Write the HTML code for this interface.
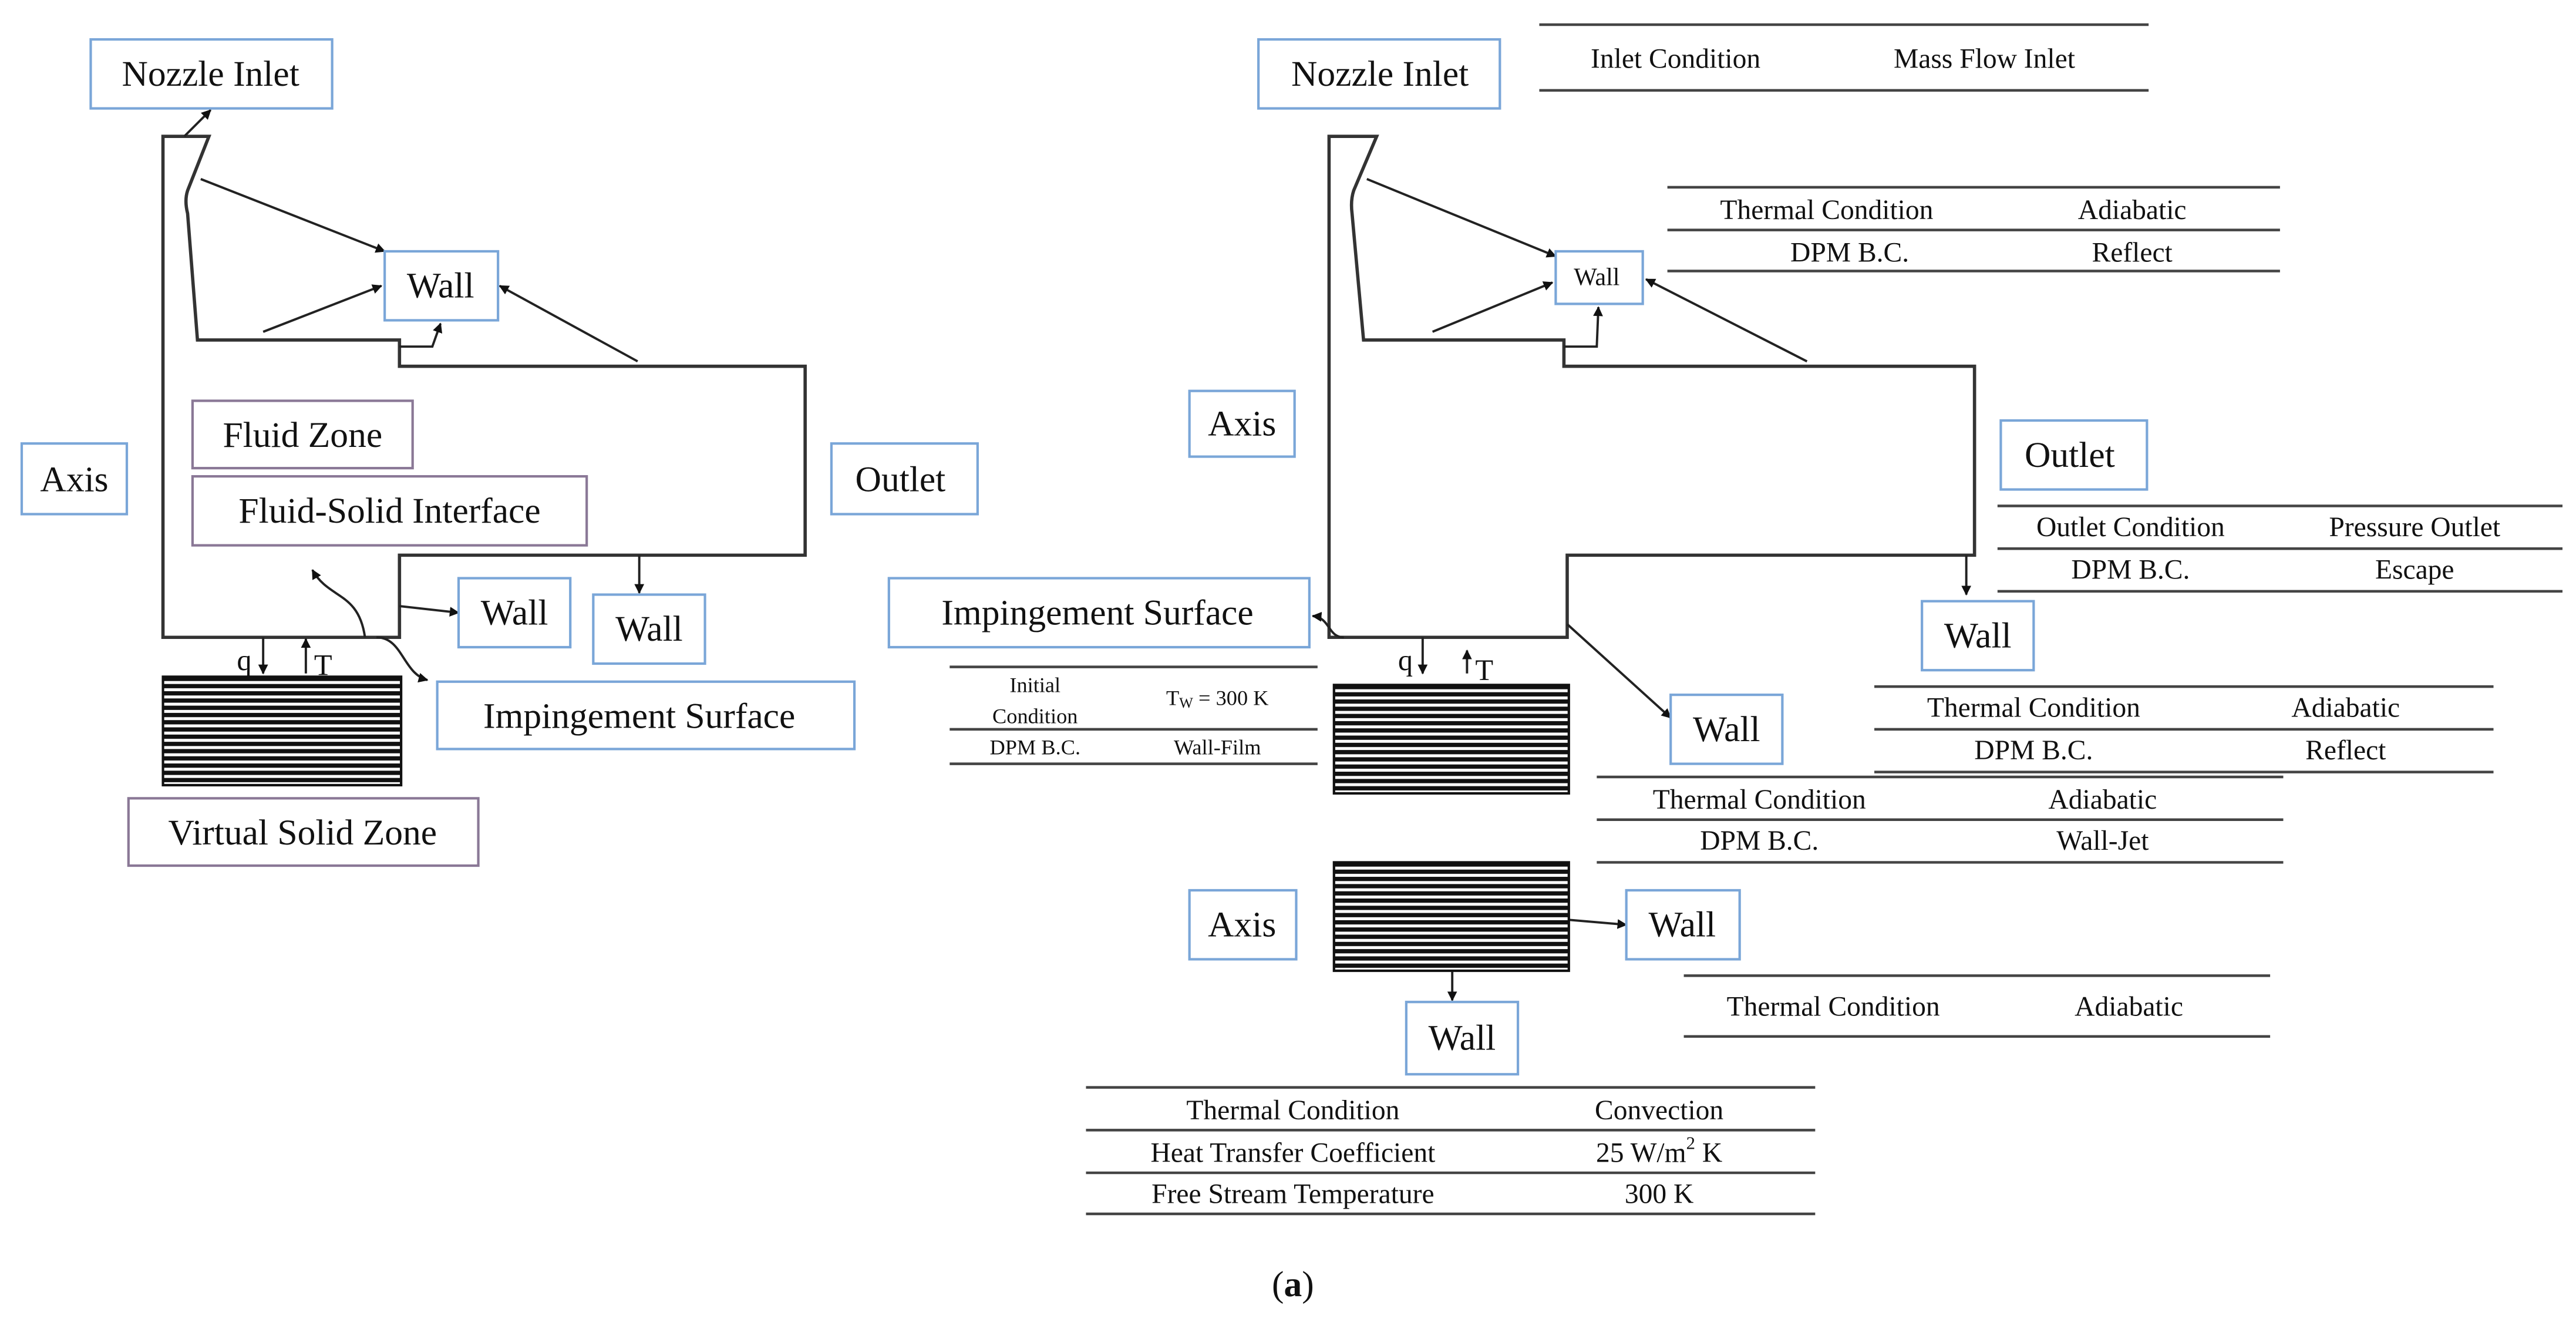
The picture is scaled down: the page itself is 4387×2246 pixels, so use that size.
<!DOCTYPE html>
<html><head><meta charset="utf-8"><style>
html,body{margin:0;padding:0;background:#fff;}
svg{display:block;}
text{font-family:"Liberation Serif",serif;fill:#111;}
</style></head><body>
<svg width="4387" height="2246" viewBox="0 0 1568 803" xmlns="http://www.w3.org/2000/svg">
<defs>
<marker id="a" viewBox="0 0 10 10" refX="9" refY="5" markerWidth="6" markerHeight="6" orient="auto-start-reverse" markerUnits="userSpaceOnUse"><path d="M0,0 L10,5 L0,10 z" fill="#111"/></marker>
<pattern id="h" width="10" height="4.4" patternUnits="userSpaceOnUse" y="412"><rect width="10" height="2.6" fill="#111"/></pattern>
<pattern id="h2" width="10" height="4.4" patternUnits="userSpaceOnUse" y="417"><rect width="10" height="2.6" fill="#111"/></pattern>
<pattern id="h3" width="10" height="4.4" patternUnits="userSpaceOnUse" y="525"><rect width="10" height="2.6" fill="#111"/></pattern>
</defs>
<g fill="none" stroke="#333" stroke-width="2">
<!-- left outline -->
<path d="M99,83 L127,83 L114,116 Q112,122 114,130 L120,207 L243,207 L243,223 L490,223 L490,338 L243,338 L243,388 L99,388 Z"/>
<!-- right outline -->
<path d="M809,83 L838,83 L824,116 Q822,122 823,130 L830,207 L952,207 L952,223 L1202,223 L1202,338 L954,338 L954,388 L809,388 Z"/>
</g>
<g fill="none" stroke="#222" stroke-width="1.4" marker-end="url(#a)">
<line x1="112" y1="83" x2="128" y2="67"/>
<line x1="122" y1="109" x2="234" y2="153"/>
<line x1="160" y1="202" x2="232" y2="174"/>
<polyline points="243,211 263,211 268,197"/>
<line x1="388" y1="220" x2="304" y2="174"/>
<line x1="243" y1="369" x2="279" y2="373"/>
<line x1="389" y1="338" x2="389" y2="361"/>
<path d="M222,388 C218,360 200,365 190,347"/>
<path d="M229,388 C245,388 245,410 260,414"/>
<line x1="160" y1="388" x2="160" y2="410"/>
<line x1="186" y1="410" x2="186" y2="389"/>
<!-- right -->
<line x1="832" y1="109" x2="947" y2="156"/>
<line x1="872" y1="202" x2="945" y2="172"/>
<polyline points="952,211 972,211 973,187"/>
<line x1="1100" y1="220" x2="1002" y2="170"/>
<path d="M818,388 C808,388 810,376 799,375"/>
<line x1="866" y1="388" x2="866" y2="410"/>
<line x1="893" y1="410" x2="893" y2="396"/>
<line x1="954" y1="380" x2="1017" y2="437"/>
<line x1="1197" y1="338" x2="1197" y2="362"/>
<line x1="955" y1="560" x2="990" y2="563"/>
<line x1="884" y1="591" x2="884" y2="609"/>
</g>
<!-- hatched blocks -->
<rect x="99" y="412" width="145" height="66" fill="url(#h)" stroke="#111" stroke-width="1.5"/>
<rect x="812" y="417" width="143" height="66" fill="url(#h2)" stroke="#111" stroke-width="1.5"/>
<rect x="812" y="525" width="143" height="66" fill="url(#h3)" stroke="#111" stroke-width="1.5"/>
<!-- boxes blue -->
<g fill="#fff" stroke="#7aa6d8" stroke-width="1.5">
<rect x="55" y="24" width="147" height="42"/>
<rect x="234" y="153" width="69" height="42"/>
<rect x="13" y="270" width="64" height="43"/>
<rect x="506" y="270" width="89" height="43"/>
<rect x="279" y="352" width="68" height="42"/>
<rect x="361" y="362" width="68" height="42"/>
<rect x="266" y="415" width="254" height="41"/>
<rect x="766" y="24" width="147" height="42"/>
<rect x="947" y="153" width="53" height="32"/>
<rect x="724" y="238" width="64" height="40"/>
<rect x="1218" y="256" width="89" height="42"/>
<rect x="1170" y="366" width="68" height="42"/>
<rect x="541" y="352" width="256" height="42"/>
<rect x="1017" y="423" width="68" height="42"/>
<rect x="724" y="542" width="65" height="42"/>
<rect x="990" y="542" width="69" height="42"/>
<rect x="856" y="610" width="68" height="44"/>
</g>
<g fill="#fff" stroke="#8a7896" stroke-width="1.5">
<rect x="117" y="244" width="134" height="41"/>
<rect x="117" y="290" width="240" height="42"/>
<rect x="78" y="486" width="213" height="41"/>
</g>
<g font-size="22" text-anchor="middle" dominant-baseline="central">
<text x="128" y="45">Nozzle Inlet</text>
<text x="268" y="174">Wall</text>
<text x="45" y="292">Axis</text>
<text x="548" y="292">Outlet</text>
<text x="313" y="373">Wall</text>
<text x="395" y="383">Wall</text>
<text x="389" y="436">Impingement Surface</text>
<text x="184" y="265">Fluid Zone</text>
<text x="237" y="311">Fluid-Solid Interface</text>
<text x="184" y="507">Virtual Solid Zone</text>
<text x="840" y="45">Nozzle Inlet</text>
<text x="756" y="258">Axis</text>
<text x="1260" y="277">Outlet</text>
<text x="1204" y="387">Wall</text>
<text x="668" y="373">Impingement Surface</text>
<text x="1051" y="444">Wall</text>
<text x="756" y="563">Axis</text>
<text x="1024" y="563">Wall</text>
<text x="890" y="632">Wall</text>
</g>
<text x="972" y="169" font-size="15" text-anchor="middle" dominant-baseline="central">Wall</text>
<g font-size="18">
<text x="144" y="408">q</text><text x="191" y="411">T</text>
<text x="851" y="408">q</text><text x="898" y="414">T</text>
</g>
<!-- table lines -->
<g stroke="#444" stroke-width="1.6">
<line x1="937" y1="15" x2="1308" y2="15"/><line x1="937" y1="55" x2="1308" y2="55"/>
<line x1="1015" y1="114" x2="1388" y2="114"/><line x1="1015" y1="140" x2="1388" y2="140"/><line x1="1015" y1="165" x2="1388" y2="165"/>
<line x1="1216" y1="308" x2="1560" y2="308"/><line x1="1216" y1="334" x2="1560" y2="334"/><line x1="1216" y1="360" x2="1560" y2="360"/>
<line x1="1141" y1="418" x2="1518" y2="418"/><line x1="1141" y1="444" x2="1518" y2="444"/><line x1="1141" y1="470" x2="1518" y2="470"/>
<line x1="578" y1="406" x2="802" y2="406"/><line x1="578" y1="444" x2="802" y2="444"/><line x1="578" y1="465" x2="802" y2="465"/>
<line x1="972" y1="473" x2="1390" y2="473"/><line x1="972" y1="499" x2="1390" y2="499"/><line x1="972" y1="525" x2="1390" y2="525"/>
<line x1="1025" y1="594" x2="1382" y2="594"/><line x1="1025" y1="631" x2="1382" y2="631"/>
<line x1="661" y1="662" x2="1105" y2="662"/><line x1="661" y1="688" x2="1105" y2="688"/><line x1="661" y1="714" x2="1105" y2="714"/><line x1="661" y1="739" x2="1105" y2="739"/>
</g>
<g font-size="17" text-anchor="middle" dominant-baseline="central">
<text x="1020" y="36">Inlet Condition</text><text x="1208" y="36">Mass Flow Inlet</text>
<text x="1112" y="128">Thermal Condition</text><text x="1298" y="128">Adiabatic</text>
<text x="1126" y="154">DPM B.C.</text><text x="1298" y="154">Reflect</text>
<text x="1297" y="321">Outlet Condition</text><text x="1470" y="321">Pressure Outlet</text>
<text x="1297" y="347">DPM B.C.</text><text x="1470" y="347">Escape</text>
<text x="1238" y="431">Thermal Condition</text><text x="1428" y="431">Adiabatic</text>
<text x="1238" y="457">DPM B.C.</text><text x="1428" y="457">Reflect</text>
<text x="1071" y="487">Thermal Condition</text><text x="1280" y="487">Adiabatic</text>
<text x="1071" y="512">DPM B.C.</text><text x="1280" y="512">Wall-Jet</text>
<text x="1116" y="613">Thermal Condition</text><text x="1296" y="613">Adiabatic</text>
<text x="787" y="676">Thermal Condition</text><text x="1010" y="676">Convection</text>
<text x="787" y="702">Heat Transfer Coefficient</text><text x="1010" y="702">25 W/m<tspan font-size="11" dy="-6">2</tspan><tspan dy="6"> K</tspan></text>
<text x="787" y="727">Free Stream Temperature</text><text x="1010" y="727">300 K</text>
</g>
<g font-size="13" text-anchor="middle" dominant-baseline="central">
<text x="630" y="417">Initial</text><text x="630" y="436">Condition</text>
<text x="741" y="425">T<tspan font-size="9" dy="3">W</tspan><tspan dy="-3"> = 300 K</tspan></text>
<text x="630" y="455">DPM B.C.</text><text x="741" y="455">Wall-Film</text>
</g>
<text x="787" y="782" font-size="22" text-anchor="middle" dominant-baseline="central">(<tspan font-weight="bold">a</tspan>)</text>
</svg>
</body></html>
